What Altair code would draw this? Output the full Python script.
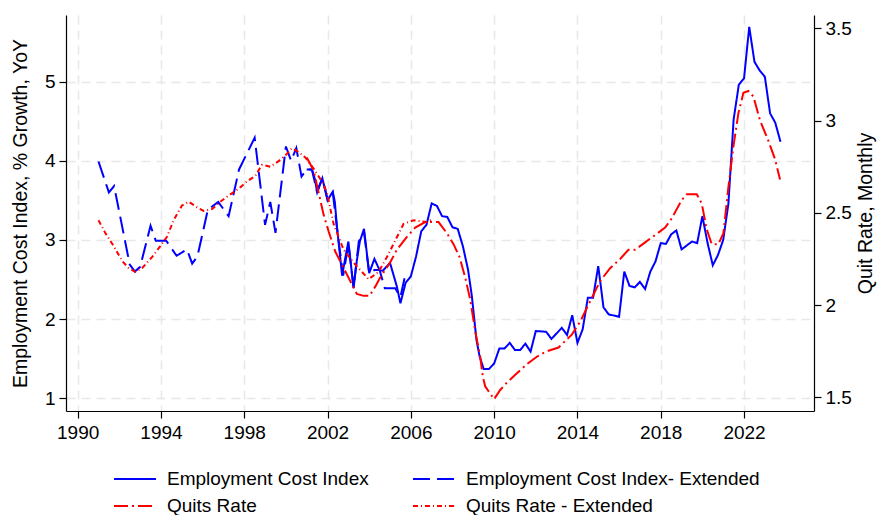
import altair as alt
import pandas as pd

# ---------------- data ----------------
eci_ext_year = [1991.0, 1991.5, 1991.75, 1992.5, 1992.75, 1993.0, 1993.5, 1993.75, 1994.25, 1994.75,
                1995.25, 1995.5, 1995.75, 1996.25, 1996.75, 1997.25, 1997.75, 1998.5, 1999.0, 1999.25,
                1999.5, 2000.0, 2000.25, 2000.5, 2000.75, 2001.0, 2001.25, 2001.5, 2001.75, 2002.0,
                2002.25, 2002.5, 2002.75, 2003.0, 2003.25, 2003.5, 2003.75, 2004.0, 2004.25, 2004.5,
                2004.75, 2005.25, 2005.5, 2005.75]
eci_ext_val = [3.99, 3.60, 3.68, 2.69, 2.60, 2.66, 3.18, 2.99, 2.99, 2.80,
               2.88, 2.70, 2.79, 3.38, 3.48, 3.30, 3.89, 4.29, 3.19, 3.48,
               3.09, 4.18, 4.00, 4.16, 3.80, 3.89, 3.89, 3.60, 3.78, 3.51,
               3.60, 3.05, 2.55, 2.95, 2.40, 2.98, 3.10, 2.58, 2.62, 2.62,
               2.39, 2.39, 2.28, 2.58]

eci_year = [2001.0, 2001.25, 2001.4, 2001.5, 2001.6, 2001.75, 2002.0, 2002.25, 2002.35, 2002.45,
            2002.7, 2002.85, 2003.0, 2003.25, 2003.4, 2003.55, 2003.75, 2004.0, 2004.25, 2004.5,
            2004.65, 2005.0, 2005.33, 2005.5, 2005.75, 2006.0, 2006.25, 2006.5, 2006.75, 2007.0,
            2007.25, 2007.5, 2007.75, 2008.0, 2008.25, 2008.5, 2008.75, 2008.93, 2009.15, 2009.3,
            2009.5, 2009.75, 2010.0, 2010.25, 2010.5, 2010.75, 2011.0, 2011.25, 2011.5, 2011.75,
            2012.0, 2012.5, 2012.75, 2013.25, 2013.5, 2013.75, 2014.0, 2014.25, 2014.5, 2014.75,
            2015.0, 2015.25, 2015.5, 2016.0, 2016.25, 2016.5, 2016.75, 2017.0, 2017.25, 2017.5,
            2017.75, 2018.0, 2018.25, 2018.5, 2018.75, 2019.0, 2019.25, 2019.5, 2019.75, 2020.0,
            2020.25, 2020.5, 2020.75, 2021.0, 2021.25, 2021.5, 2021.75, 2022.0, 2022.25, 2022.5,
            2022.75, 2023.0, 2023.25, 2023.5, 2023.75]
eci_val = [3.89, 3.89, 3.76, 3.60, 3.68, 3.78, 3.50, 3.61, 3.48, 3.17,
           2.55, 2.77, 2.98, 2.39, 2.73, 2.98, 3.14, 2.58, 2.76, 2.62,
           2.61, 2.71, 2.41, 2.20, 2.46, 2.54, 2.79, 3.11, 3.19, 3.46,
           3.43, 3.30, 3.29, 3.16, 3.14, 2.92, 2.62, 2.29, 1.74, 1.53,
           1.37, 1.37, 1.44, 1.63, 1.63, 1.70, 1.61, 1.61, 1.69, 1.59,
           1.85, 1.84, 1.75, 1.89, 1.80, 2.05, 1.70, 1.87, 2.27, 2.27,
           2.67, 2.15, 2.06, 2.03, 2.60, 2.42, 2.40, 2.47, 2.38, 2.60,
           2.73, 2.96, 2.95, 3.07, 3.12, 2.88, 2.93, 2.98, 2.96, 3.30,
           2.96, 2.68, 2.81, 3.00, 3.46, 4.52, 4.96, 5.04, 5.69, 5.25,
           5.14, 5.06, 4.60, 4.48, 4.24]

quits_year = [2001.0, 2001.33, 2001.65, 2001.81, 2002.05, 2002.37, 2002.69, 2003.09, 2003.41, 2003.73,
              2004.02, 2004.29, 2004.53, 2005.0, 2005.33, 2005.81, 2006.21, 2006.69, 2007.0, 2007.33,
              2007.73, 2008.05, 2008.34, 2008.61, 2008.85, 2009.09, 2009.33, 2009.46, 2009.57, 2009.81,
              2010.0, 2010.29, 2010.61, 2011.09, 2011.57, 2012.05, 2012.53, 2013.09, 2013.73, 2014.13,
              2014.61, 2015.09, 2015.57, 2016.05, 2016.45, 2016.77, 2017.25, 2017.73, 2018.21, 2018.53,
              2018.77, 2019.01, 2019.25, 2019.73, 2019.97, 2020.21, 2020.45, 2020.77, 2021.01, 2021.25,
              2021.49, 2021.73, 2021.97, 2022.21, 2022.45, 2022.77, 2023.17, 2023.49, 2023.73]
quits_val = [2.80, 2.73, 2.57, 2.49, 2.40, 2.29, 2.22, 2.13, 2.06, 2.05,
             2.05, 2.10, 2.15, 2.23, 2.30, 2.37, 2.42, 2.45, 2.45, 2.45,
             2.39, 2.33, 2.26, 2.15, 2.03, 1.86, 1.72, 1.61, 1.56, 1.52,
             1.49, 1.54, 1.58, 1.63, 1.68, 1.72, 1.75, 1.77, 1.84, 1.91,
             2.02, 2.13, 2.20, 2.25, 2.30, 2.30, 2.34, 2.38, 2.42, 2.47,
             2.52, 2.57, 2.60, 2.60, 2.55, 2.41, 2.33, 2.33, 2.39, 2.64,
             2.86, 3.04, 3.15, 3.16, 3.13, 3.00, 2.89, 2.79, 2.68]

quits_ext_year = [1991.0, 1991.33, 1991.73, 1992.13, 1992.45, 1992.77, 1993.09, 1993.57, 1993.97, 1994.29,
                  1994.61, 1995.01, 1995.33, 1995.73, 1996.05, 1996.45, 1996.85, 1997.33, 1997.73, 1998.13,
                  1998.53, 1998.85, 1999.25, 1999.65, 1999.97, 2000.29, 2000.61, 2000.93, 2001.33, 2001.73,
                  2001.97, 2002.29, 2002.77, 2003.25, 2003.97, 2004.45, 2004.85, 2005.25, 2005.65, 2006.13,
                  2006.77, 2007.09]
quits_ext_val = [2.46, 2.39, 2.32, 2.24, 2.20, 2.18, 2.20, 2.26, 2.32, 2.37,
                 2.46, 2.54, 2.56, 2.53, 2.51, 2.52, 2.56, 2.60, 2.63, 2.67,
                 2.70, 2.76, 2.75, 2.78, 2.81, 2.85, 2.83, 2.80, 2.74, 2.67,
                 2.61, 2.44, 2.30, 2.23, 2.14, 2.18, 2.26, 2.35, 2.44, 2.46,
                 2.45, 2.47]

series_names = ["Employment Cost Index", "Employment Cost Index- Extended",
                "Quits Rate", "Quits Rate - Extended"]
x_ticks = [1990, 1994, 1998, 2002, 2006, 2010, 2014, 2018, 2022]
left_ticks = [1, 2, 3, 4, 5]
right_ticks = [1.5, 2, 2.5, 3, 3.5]

# ---------------- build tables ----------------
left_df = pd.concat([
    pd.DataFrame({"year": eci_year, "value": eci_val, "series": series_names[0], "ord": range(len(eci_year))}),
    pd.DataFrame({"year": eci_ext_year, "value": eci_ext_val, "series": series_names[1], "ord": range(len(eci_ext_year))}),
])
right_df = pd.concat([
    pd.DataFrame({"year": quits_year, "value": quits_val, "series": series_names[2], "ord": range(len(quits_year))}),
    pd.DataFrame({"year": quits_ext_year, "value": quits_ext_val, "series": series_names[3], "ord": range(len(quits_ext_year))}),
])

FONT = "Liberation Sans"
BLUE = "#0000ff"
RED = "#ff0000"

# custom wide line symbol: small symbol "size" keeps rows compact, path is 4.2 units wide
legend = alt.Legend(
    orient="none", legendX=47, legendY=453, columns=2, direction="horizontal", title=None,
    symbolType="M-1,0H3.2", symbolSize=400, symbolStrokeWidth=2,
    labelFontSize=19, labelFont=FONT, labelColor="black", labelLimit=500,
    columnPadding=40, rowPadding=6, labelOffset=32, padding=0,
)

color_enc = alt.Color("series:N", scale=alt.Scale(domain=series_names, range=[BLUE, BLUE, RED, RED]),
                      legend=legend)
dash_enc = alt.StrokeDash("series:N", scale=alt.Scale(domain=series_names,
                                                      range=[[1, 0], [17, 7], [14, 4, 2, 4], [5, 3, 1, 3]]),
                          legend=legend)

x_enc = alt.X("year:Q",
              scale=alt.Scale(domain=[1989.44, 2025.36], nice=False, zero=False),
              axis=alt.Axis(values=x_ticks, format="d", title=None, grid=True,
                            gridDash=[9, 6], gridColor="#e8e8e8", gridWidth=1.5,
                            tickSize=7, labelPadding=5))

left = alt.Chart(left_df).mark_line(strokeWidth=2).encode(
    x=x_enc,
    y=alt.Y("value:Q",
            scale=alt.Scale(domain=[0.84, 5.84], nice=False, zero=False),
            axis=alt.Axis(values=left_ticks, title="Employment Cost Index, % Growth, YoY",
                          orient="left", grid=True, gridDash=[9, 6], gridColor="#e8e8e8",
                          gridWidth=1.5, tickSize=7, labelPadding=4, titlePadding=14,
                          titleFontSize=19.5)),
    color=color_enc,
    strokeDash=dash_enc,
    detail="series:N",
    order="ord:Q",
)

right = alt.Chart(right_df).mark_line(strokeWidth=2).encode(
    x=x_enc,
    y=alt.Y("value:Q",
            scale=alt.Scale(domain=[1.426, 3.572], nice=False, zero=False),
            axis=alt.Axis(values=right_ticks, format="~g", title="Quit Rate, Monthly",
                          orient="right", grid=False, tickSize=7, labelPadding=4,
                          titlePadding=24, titleAngle=270, titleFontSize=19.5)),
    color=color_enc,
    strokeDash=dash_enc,
    detail="series:N",
    order="ord:Q",
)

chart = alt.layer(left, right).resolve_scale(y="independent").properties(
    width=748, height=396,
    padding={"left": 58, "top": 7, "right": 66, "bottom": 104},
    autosize=alt.AutoSizeParams(type="none"),
).configure(font=FONT).configure_view(stroke=None).configure_axis(
    labelFont=FONT, titleFont=FONT, labelFontSize=19, titleFontSize=19,
    labelColor="black", titleColor="black", titleFontWeight="normal",
    domainColor="black", tickColor="black", domainWidth=1.2, tickWidth=1.2,
)

chart.save("out.html", embed_options={"renderer": "svg", "actions": False})
